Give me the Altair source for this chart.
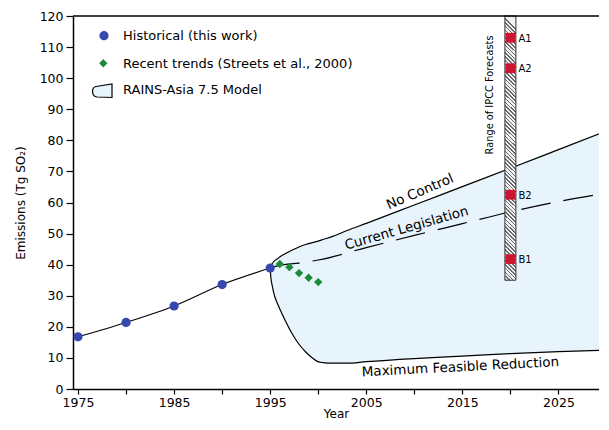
import altair as alt
import pandas as pd

# ---------------- data ----------------
hist_years = [1975, 1980, 1985, 1990, 1995]
hist_values = [16.8, 21.4, 26.7, 33.6, 38.9]

trend_years = [1996, 1997, 1998, 1999, 2000]
trend_values = [40.2, 39.2, 37.3, 35.8, 34.4]

model_years = [1995, 1995.05, 1995.2, 1995.45, 1995.8, 1996.1, 1996.6, 1997.3, 1998,
               1998.7, 1999.3, 1999.9, 2000.5, 2001.5, 2003, 2005, 2010, 2015, 2020,
               2025, 2030]
no_control = [39, 39.6, 40.3, 41.2, 42.0, 42.7, 43.6, 44.7, 45.7,
              46.5, 47.0, 47.5, 48.1, 49.1, 51.0, 53.3, 59.2, 65.1, 71.0,
              77.0, 83.0]
max_feasible = [39, 36.6, 33.4, 30.0, 27.2, 25.1, 21.8, 17.7, 14.4,
                11.9, 10.2, 8.9, 8.5, 8.3, 8.3, 8.8, 9.8, 10.6, 11.4,
                12.0, 12.5]

cl_years = [1995, 1996, 1998, 2000, 2005, 2010, 2015, 2020, 2025, 2030]
current_leg = [39, 39.8, 40.5, 41.5, 45.5, 49.4, 53.2, 57.0, 60.3, 63.0]

ipcc_labels = ["A1", "A2", "B2", "B1"]
ipcc_values = [113, 103.2, 62.5, 41.8]
ipcc_year = [2020]
ipcc_low = [35]
ipcc_high = [120]

legend_labels = ["Historical (this work)",
                 "Recent trends (Streets et al., 2000)",
                 "RAINS-Asia 7.5 Model"]
curve_labels = ["No Control", "Current Legislation", "Maximum Feasible Reduction"]
bar_label = ["Range of IPCC Forecasts"]

# ---------------- styling ----------------
FONT = "DejaVu Sans"
BLUE = "#3548b0"
GREEN = "#1c8a3a"
RED = "#cc1530"
FILL = "#e7f4fb"
W, H = 526, 373

xscale = alt.Scale(domain=[1975, 2028.7], nice=False, zero=False)
yscale = alt.Scale(domain=[0, 120], nice=False, zero=True)

xaxis = alt.Axis(values=list(range(1975, 2030, 5)), format="d",
                 labelExpr="(datum.value - 1975) % 10 == 0 ? datum.label : ''",
                 title="Year", grid=False, tickSize=5, labelPadding=2,
                 titlePadding=0, labelOverlap=False)
yaxis = alt.Axis(values=list(range(0, 121, 10)), title="Emissions (Tg SO\u2082)",
                 grid=False, tickSize=7, labelPadding=3, titlePadding=12,
                 labelOverlap=False)

def X(field="year"):
    return alt.X(f"{field}:Q", scale=xscale, axis=xaxis)

def Y(field="value"):
    return alt.Y(f"{field}:Q", scale=yscale, axis=yaxis)

model_df = pd.DataFrame({"year": model_years, "value": no_control, "low": max_feasible})
hist_df = pd.DataFrame({"year": hist_years, "value": hist_values})
trend_df = pd.DataFrame({"year": trend_years, "value": trend_values})
cl_df = pd.DataFrame({"year": cl_years, "value": current_leg})
ipcc_df = pd.DataFrame({"year": ipcc_year * len(ipcc_labels), "value": ipcc_values,
                        "label": ipcc_labels})
bar_df = pd.DataFrame({"year": ipcc_year, "value": ipcc_low, "top": ipcc_high})

area = alt.Chart(model_df).mark_area(color=FILL, interpolate="monotone", clip=True).encode(
    x=X(), y=Y(), y2="low:Q")
upper = alt.Chart(model_df).mark_line(color="black", strokeWidth=1.2,
                                      interpolate="monotone", clip=True).encode(x=X(), y=Y())
lower = alt.Chart(model_df).mark_line(color="black", strokeWidth=1.2,
                                      interpolate="monotone", clip=True).encode(x=X(), y=Y("low"))
cl_line = alt.Chart(cl_df).mark_line(color="black", strokeWidth=1.2, strokeDash=[30, 13],
                                     interpolate="monotone", clip=True).encode(x=X(), y=Y())
hist_line = alt.Chart(hist_df).mark_line(color="black", strokeWidth=1.1,
                                         interpolate="monotone").encode(x=X(), y=Y())
hist_pts = alt.Chart(hist_df).mark_point(filled=True, shape="circle", size=85,
                                         color=BLUE, opacity=1).encode(x=X(), y=Y())
trend_pts = alt.Chart(trend_df).mark_point(filled=True, shape="diamond", size=70,
                                           color=GREEN, opacity=1).encode(x=X(), y=Y())

# hatched bar: striped gradient
N = 70
stops = []
for i in range(N):
    stops += [alt.GradientStop(offset=i / N, color="#f2f2f2"),
              alt.GradientStop(offset=(i + 0.6) / N, color="#f2f2f2"),
              alt.GradientStop(offset=(i + 0.6) / N, color="#6a6a6a"),
              alt.GradientStop(offset=(i + 1) / N, color="#6a6a6a")]
hatch = alt.LinearGradient(gradient="linear", stops=stops, x1=0.041, y1=0, x2=0, y2=1)

bar = alt.Chart(bar_df).mark_bar(fill=hatch, stroke="#333333", strokeWidth=1,
                                 width=11).encode(x=X(), y=Y(), y2="top:Q")
ipcc_pts = alt.Chart(ipcc_df).mark_square(size=95, color=RED, opacity=1).encode(x=X(), y=Y())
ipcc_txt = alt.Chart(ipcc_df).mark_text(align="left", baseline="middle", dx=8, dy=1,
                                        font=FONT, fontSize=10, color="black").encode(
    x=X(), y=Y(), text="label:N")

def note(label, xv, yv, angle, size):
    return alt.Chart(pd.DataFrame({"t": [label]})).mark_text(
        angle=angle, font=FONT, fontSize=size, color="black",
        align="center", baseline="middle").encode(
        x=alt.XDatum(xv, scale=xscale, axis=xaxis),
        y=alt.YDatum(yv, scale=yscale, axis=yaxis), text="t:N")

n1 = note(curve_labels[0], 2010.6, 63.4, 337, 13.5)
n2 = note(curve_labels[1], 2009.2, 51.7, 344, 13.5)
n3 = note(curve_labels[2], 2014.8, 7.0, 357, 13.5)
n4 = note(bar_label[0], 2017.86, 94.6, 270, 9.8)

top_rule = alt.Chart(pd.DataFrame({"v": [120]})).mark_rule(
    color="black", strokeWidth=1.5).encode(y=Y("v"))

# manual legend
def leg_text(label, py):
    return alt.Chart(pd.DataFrame({"t": [label]})).mark_text(
        align="left", baseline="middle", font=FONT, fontSize=13, color="black").encode(
        x=alt.value(50), y=alt.value(py), text="t:N")

leg_df = pd.DataFrame({"t": legend_labels})
l1 = alt.Chart(leg_df.iloc[[0]]).mark_point(filled=True, shape="circle", size=85,
                                            color=BLUE, opacity=1).encode(
    x=alt.value(31), y=alt.value(19.7))
l2 = alt.Chart(leg_df.iloc[[1]]).mark_point(filled=True, shape="diamond", size=70,
                                            color=GREEN, opacity=1).encode(
    x=alt.value(30.3), y=alt.value(47.3))
d_shape = "M -0.6,-0.45 L 1,-0.7 L 1,0.65 L -0.5,0.6 C -1.05,0.55 -1.1,-0.35 -0.6,-0.45 Z"
l3 = alt.Chart(leg_df.iloc[[2]]).mark_point(filled=False, shape=d_shape, size=400,
                                            fill=FILL, fillOpacity=1, stroke="black",
                                            strokeWidth=1.2, opacity=1).encode(
    x=alt.value(29), y=alt.value(75))

chart = alt.layer(
    area, upper, lower, cl_line, hist_line, hist_pts, trend_pts,
    bar, ipcc_pts, ipcc_txt, n1, n2, n3, n4, top_rule,
    l1, leg_text(legend_labels[0], 20),
    l2, leg_text(legend_labels[1], 48),
    l3, leg_text(legend_labels[2], 73.5),
).properties(
    width=W, height=H,
    autosize=alt.AutoSizeParams(type="none"),
    padding={"left": 65, "top": 8, "right": 0, "bottom": 33},
    background="white",
).configure_view(stroke=None).configure_axis(
    labelFont=FONT, titleFont=FONT, labelFontSize=12.5, titleFontSize=12,
    titleFontWeight="normal", labelColor="black", titleColor="black",
    domainColor="black", tickColor="black", domainWidth=1.5, tickWidth=1.2,
)

chart.save("out.html", embed_options={"renderer": "svg", "actions": False})
